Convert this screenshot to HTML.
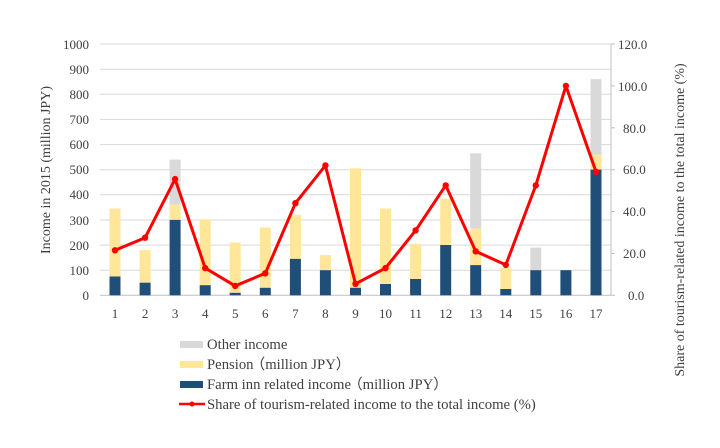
<!DOCTYPE html>
<html><head><meta charset="utf-8"><style>body{margin:0;background:#fff}svg{display:block;font-family:"Liberation Serif",serif}</style></head><body>
<svg width="720" height="448" viewBox="0 0 720 448">
<g stroke="#d9d9d9" stroke-width="1">
<line x1="100" y1="44" x2="611" y2="44"/><line x1="100" y1="69.2" x2="611" y2="69.2"/><line x1="100" y1="94.3" x2="611" y2="94.3"/><line x1="100" y1="119.4" x2="611" y2="119.4"/><line x1="100" y1="144.6" x2="611" y2="144.6"/><line x1="100" y1="169.7" x2="611" y2="169.7"/><line x1="100" y1="194.8" x2="611" y2="194.8"/><line x1="100" y1="220" x2="611" y2="220"/><line x1="100" y1="245.1" x2="611" y2="245.1"/><line x1="100" y1="270.2" x2="611" y2="270.2"/>
</g>
<line x1="100" y1="295.3" x2="611" y2="295.3" stroke="#bfbfbf"/>
<line x1="611" y1="44" x2="611" y2="295.3" stroke="#bfbfbf"/>
<g stroke="#bfbfbf"><line x1="611" y1="44" x2="615" y2="44"/><line x1="611" y1="85.9" x2="615" y2="85.9"/><line x1="611" y1="127.8" x2="615" y2="127.8"/><line x1="611" y1="169.7" x2="615" y2="169.7"/><line x1="611" y1="211.5" x2="615" y2="211.5"/><line x1="611" y1="253.4" x2="615" y2="253.4"/><line x1="611" y1="295.3" x2="615" y2="295.3"/></g>
<g fill="#d9d9d9">
<rect x="169.6" y="159.6" width="11" height="45.2"/>
<rect x="470.2" y="153.3" width="11" height="75.4"/>
<rect x="530.3" y="247.6" width="11" height="22.6"/>
<rect x="590.5" y="79.2" width="11" height="75.4"/>
</g>
<g fill="#ffe699">
<rect x="109.5" y="208.6" width="11" height="67.9"/>
<rect x="139.6" y="250.1" width="11" height="32.6"/>
<rect x="169.6" y="204.8" width="11" height="15.1"/>
<rect x="199.7" y="219.9" width="11" height="65.3"/>
<rect x="229.7" y="242.5" width="11" height="50.3"/>
<rect x="259.8" y="227.5" width="11" height="60.3"/>
<rect x="289.9" y="214.9" width="11" height="44"/>
<rect x="319.9" y="255.1" width="11" height="15.1"/>
<rect x="350" y="168.4" width="11" height="119.4"/>
<rect x="380" y="208.6" width="11" height="75.4"/>
<rect x="410.1" y="243.8" width="11" height="35.2"/>
<rect x="440.2" y="198.6" width="11" height="46.4"/>
<rect x="470.2" y="228.7" width="11" height="36.4"/>
<rect x="500.3" y="267.7" width="11" height="21.3"/>
<rect x="590.5" y="154.6" width="11" height="15"/>
</g>
<g fill="#1f4e79">
<rect x="109.5" y="276.5" width="11" height="18.8"/>
<rect x="139.6" y="282.7" width="11" height="12.6"/>
<rect x="169.6" y="219.9" width="11" height="75.4"/>
<rect x="199.7" y="285.2" width="11" height="10.1"/>
<rect x="229.7" y="292.8" width="11" height="2.5"/>
<rect x="259.8" y="287.8" width="11" height="7.5"/>
<rect x="289.9" y="258.9" width="11" height="36.4"/>
<rect x="319.9" y="270.2" width="11" height="25.1"/>
<rect x="350" y="287.8" width="11" height="7.5"/>
<rect x="380" y="284" width="11" height="11.3"/>
<rect x="410.1" y="279" width="11" height="16.3"/>
<rect x="440.2" y="245" width="11" height="50.3"/>
<rect x="470.2" y="265.1" width="11" height="30.2"/>
<rect x="500.3" y="289" width="11" height="6.3"/>
<rect x="530.3" y="270.2" width="11" height="25.1"/>
<rect x="560.4" y="270.2" width="11" height="25.1"/>
<rect x="590.5" y="169.6" width="11" height="125.7"/>
</g>
<polyline fill="none" stroke="#ff0000" stroke-width="3" stroke-linejoin="round" points="115,250.3 145.1,237.7 175.1,179.1 205.2,268.1 235.2,285.9 265.3,273.3 295.4,203.2 325.4,165.5 355.5,283.8 385.5,268.1 415.6,230.4 445.7,185.4 475.7,251.3 505.8,264.9 535.8,185.4 565.9,85.9 596,171.8"/>
<g fill="#ff0000">
<circle cx="115" cy="250.3" r="3.2"/><circle cx="145.1" cy="237.7" r="3.2"/><circle cx="175.1" cy="179.1" r="3.2"/><circle cx="205.2" cy="268.1" r="3.2"/><circle cx="235.2" cy="285.9" r="3.2"/><circle cx="265.3" cy="273.3" r="3.2"/><circle cx="295.4" cy="203.2" r="3.2"/><circle cx="325.4" cy="165.5" r="3.2"/><circle cx="355.5" cy="283.8" r="3.2"/><circle cx="385.5" cy="268.1" r="3.2"/><circle cx="415.6" cy="230.4" r="3.2"/><circle cx="445.7" cy="185.4" r="3.2"/><circle cx="475.7" cy="251.3" r="3.2"/><circle cx="505.8" cy="264.9" r="3.2"/><circle cx="535.8" cy="185.4" r="3.2"/><circle cx="565.9" cy="85.9" r="3.2"/><circle cx="596" cy="171.8" r="3.2"/>
</g>
<g font-size="13" fill="#404040" text-anchor="end">
<text x="89" y="49">1000</text><text x="89" y="74">900</text><text x="89" y="99">800</text><text x="89" y="124">700</text><text x="89" y="149">600</text><text x="89" y="174">500</text><text x="89" y="199">400</text><text x="89" y="225">300</text><text x="89" y="250">200</text><text x="89" y="275">100</text><text x="89" y="300">0</text>
</g>
<g font-size="13" fill="#404040">
<text x="618" y="49">120.0</text><text x="618" y="91">100.0</text><text x="623" y="133">80.0</text><text x="623" y="174">60.0</text><text x="623" y="216">40.0</text><text x="623" y="258">20.0</text><text x="628" y="300">0.0</text>
</g>
<g font-size="13" fill="#404040" text-anchor="middle">
<text x="115" y="318">1</text><text x="145.1" y="318">2</text><text x="175.1" y="318">3</text><text x="205.2" y="318">4</text><text x="235.2" y="318">5</text><text x="265.3" y="318">6</text><text x="295.4" y="318">7</text><text x="325.4" y="318">8</text><text x="355.5" y="318">9</text><text x="385.5" y="318">10</text><text x="415.6" y="318">11</text><text x="445.7" y="318">12</text><text x="475.7" y="318">13</text><text x="505.8" y="318">14</text><text x="535.8" y="318">15</text><text x="565.9" y="318">16</text><text x="596" y="318">17</text>
</g>
<text transform="translate(50,170) rotate(-90)" font-size="14" fill="#404040" text-anchor="middle">Income in 2015 (million JPY)</text>
<text transform="translate(684,220) rotate(-90)" font-size="14" fill="#404040" text-anchor="middle">Share of tourism-related income to the total income (%)</text>
<rect x="180" y="341" width="23" height="7" fill="#d9d9d9"/>
<rect x="180" y="361" width="23" height="7" fill="#ffe699"/>
<rect x="180" y="381" width="23" height="7" fill="#1f4e79"/>
<line x1="179" y1="404" x2="205" y2="404" stroke="#ff0000" stroke-width="2.5"/>
<circle cx="192" cy="404" r="2.5" fill="#ff0000"/>
<g font-size="14.7" fill="#404040">
<text x="207" y="349">Other income</text>
<text x="207" y="369">Pension<tspan dx="-3">（million JPY）</tspan></text>
<text x="207" y="389">Farm inn related income<tspan dx="-3">（million JPY）</tspan></text>
<text x="207" y="409">Share of tourism-related income to the total income (%)</text>
</g>
</svg>
</body></html>
